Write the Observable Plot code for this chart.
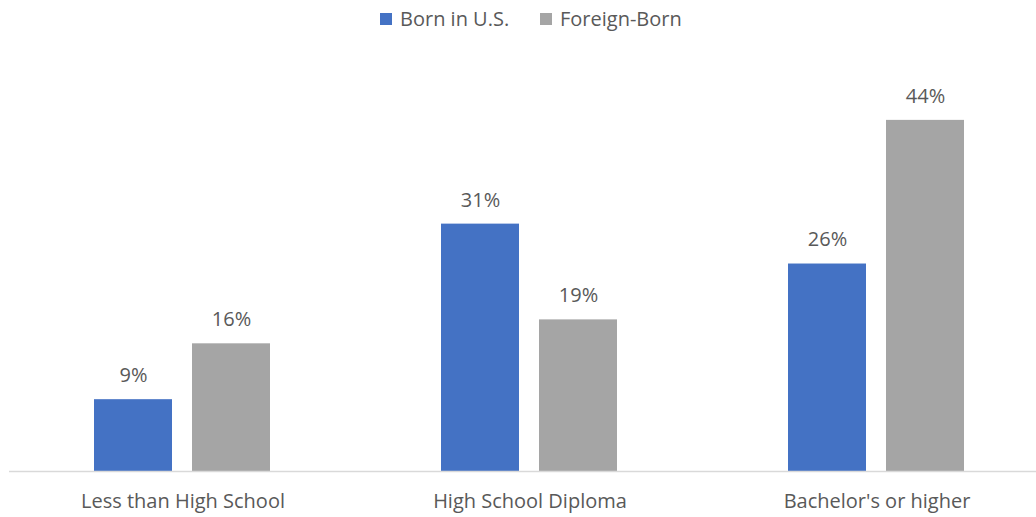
<!DOCTYPE html>
<html>
<head>
<meta charset="utf-8">
<script src="https://cdn.jsdelivr.net/npm/d3@7"></script>
<script src="https://cdn.jsdelivr.net/npm/@observablehq/plot@0.6"></script>
<style>
  html, body { margin: 0; padding: 0; background: #fff; overflow: hidden; }
  body { width: 1036px; height: 517px; font-family: "Open Sans", sans-serif; color: #595959; }
  #legend { position: relative; height: 40px; font-size: 20px; }
  .item { position: absolute; top: 5px; display: flex; align-items: center; white-space: nowrap; line-height: 28px; }
  .sw { width: 12px; height: 12px; margin-right: 8px; display: inline-block; }
  #chart svg { display: block; overflow: visible; }
</style>
</head>
<body>
<div id="legend"></div>
<div id="chart"></div>
<script>
const categories = ["Less than High School", "High School Diploma", "Bachelor's or higher"];
const seriesNames = ["Born in U.S.", "Foreign-Born"];
const bornInUS = [9, 31, 26];
const foreignBorn = [16, 19, 44];
const colors = ["#4472C4", "#A5A5A5"];

const data = [];
categories.forEach((c, i) => {
  data.push({category: c, series: seriesNames[0], value: bornInUS[i]});
  data.push({category: c, series: seriesNames[1], value: foreignBorn[i]});
});

// Legend
const legend = document.getElementById("legend");
const legendLeft = [380, 540];
seriesNames.forEach((s, i) => {
  const it = document.createElement("div");
  it.className = "item";
  it.style.left = legendLeft[i] + "px";
  const sw = document.createElement("span");
  sw.className = "sw";
  sw.style.background = colors[i];
  it.appendChild(sw);
  it.appendChild(document.createTextNode(s));
  legend.appendChild(it);
});

const chart = Plot.plot({
  width: 1036,
  height: 477,
  marginTop: 32,
  marginBottom: 46,
  marginLeft: 8,
  marginRight: 0,
  style: {fontFamily: "Open Sans, sans-serif", fontSize: "20px", color: "#595959", overflow: "visible"},
  fx: {domain: categories, range: [8.5, 1049.5], padding: 0, label: null, axis: "bottom", tickSize: 0, tickPadding: 22, fontSize: 20},
  x: {domain: seriesNames, paddingInner: 0.204, paddingOuter: 0.872, axis: null},
  y: {domain: [0, 50], axis: null},
  color: {domain: seriesNames, range: colors},
  marks: [
    Plot.barY(data, {fx: "category", x: "series", y: "value", fill: "series"}),
    Plot.ruleY([0], {stroke: "#D9D9D9", strokeWidth: 1.5}),
    Plot.text(data, {fx: "category", x: "series", y: "value", text: d => d.value + "%", dy: -24, fill: "#595959", fontSize: 20})
  ]
});
document.getElementById("chart").appendChild(chart);
</script>
</body>
</html>
